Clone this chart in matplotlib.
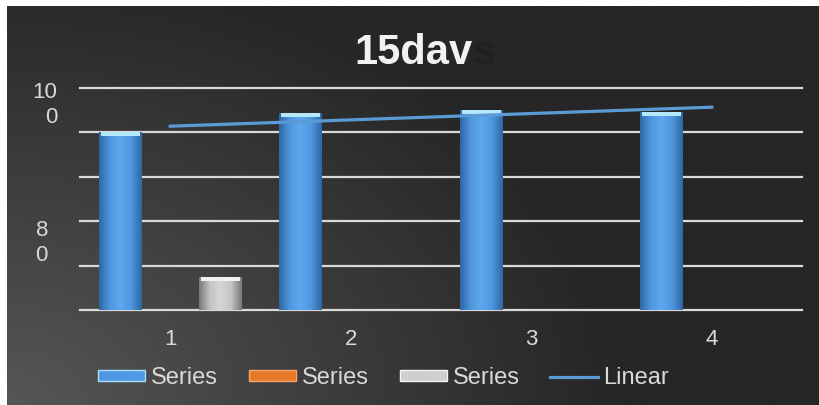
import numpy as np
import matplotlib
matplotlib.use('Agg')
import matplotlib.pyplot as plt
from matplotlib.colors import LinearSegmentedColormap
from matplotlib.patches import Patch
from matplotlib.lines import Line2D

plt.rcParams['font.family'] = ['Liberation Sans', 'DejaVu Sans']

# Data
categories = ['1', '2', '3', '4']
blue_vals = [80, 88.5, 90, 89]
orange_vals = [0, 0, 0, 0]
gray_vals = [15, 0, 0, 0]
series_names = ['Series', 'Series', 'Series']
trend_name = 'Linear'
title = '15dav'

TXT = '#d9d9d9'

fig = plt.figure(figsize=(8.19, 4.05), dpi=100, facecolor='white')

# Dark gradient background panel (lighter toward the bottom-left)
bg = fig.add_axes([7/819, 0, 812/819, 399/405])
bg.axis('off')
gx, gy = np.meshgrid(np.linspace(0, 1, 300), np.linspace(0, 1, 150))
t = np.clip(1 - np.sqrt((gx / 0.75) ** 2 + (gy / 1.1) ** 2), 0, 1)
shade = (0x26 + (0x56 - 0x26) * t) / 255.0
bg.imshow(np.dstack([shade, shade, shade]), origin='lower', extent=[0, 1, 0, 1],
          aspect='auto', interpolation='bilinear')
bg.set_xlim(0, 1)
bg.set_ylim(0, 1)

ax = fig.add_axes([80/819, 95/405, 722/819, 222.5/405])
ax.set_facecolor('none')

x = np.arange(1, len(categories) + 1)
width = 0.238
step = 0.277

blue_cmap = LinearSegmentedColormap.from_list('b', ['#2f68a4', '#4f97e0', '#5ea8ee', '#4f97e0', '#2f68a4'])
gray_cmap = LinearSegmentedColormap.from_list('g', ['#7a7a7a', '#c4c4c4', '#d6d6d6', '#c4c4c4', '#7a7a7a'])
grad = np.linspace(0, 1, 64).reshape(1, -1)


def glossy_bars(xpos, vals, base, cmap, cap):
    bars = ax.bar(xpos, vals, width, color=base, zorder=2)
    for rect in bars:
        h = rect.get_height()
        if h <= 0:
            continue
        x0, y0 = rect.get_xy()
        im = ax.imshow(grad, extent=[x0, x0 + rect.get_width(), y0, y0 + h],
                       aspect='auto', cmap=cmap, zorder=3, interpolation='bilinear')
        im.set_clip_path(rect)
    v = np.asarray(vals, dtype=float)
    ax.bar(xpos[v > 0], 1.8, width * 0.9, bottom=v[v > 0] - 1.8, color=cap, zorder=4)


glossy_bars(x - step, blue_vals, '#4f97e0', blue_cmap, '#b4e8fb')
ax.bar(x, orange_vals, width, color='#ed7d31', zorder=2)
glossy_bars(x + step, gray_vals, '#c4c4c4', gray_cmap, '#f0f0f0')

# Linear trendline for the first series
coef = np.polyfit(x, blue_vals, 1)
ax.plot(x, np.polyval(coef, x), color='#5b9bd5', lw=2.3, zorder=5, clip_on=False)

ax.set_xlim(0.5, 4.5)
ax.set_ylim(0, 100)
ax.set_yticks(range(0, 101, 20))
ax.yaxis.grid(True, color=TXT, lw=1.6)
ax.set_axisbelow(True)
for gl in ax.get_ygridlines():
    gl.set_clip_on(False)
for s in ax.spines.values():
    s.set_visible(False)
ax.tick_params(axis='y', left=False, labelleft=False)
ax.set_xticks(x, categories)
ax.tick_params(axis='x', length=0, pad=14, colors=TXT, labelsize=16)

# Wrapped y labels as they appear in the chart
fig.text(57/819, 1 - 105/405, '10\n0', ha='right', va='center', multialignment='right',
         fontsize=16, color=TXT)
fig.text(48/819, 1 - 243/405, '8\n0', ha='right', va='center', multialignment='right',
         fontsize=16, color=TXT)

# Title with a faint shadowed trailing letter
ttl = fig.text(413/819, 1 - 53/405, title, ha='center', va='center', fontsize=30,
               fontweight='bold', color='#f2f2f2')
bg.annotate('s', xy=(1, 0), xycoords=ttl, va='bottom', ha='left', fontsize=30,
            fontweight='bold', color='#141414', alpha=0.28)

handles = [Patch(facecolor='#4f97e0', edgecolor='#a9e2fa', lw=1),
           Patch(facecolor='#e8792a', edgecolor='#f4a660', lw=1),
           Patch(facecolor='#cfcfcf', edgecolor='#f4f4f4', lw=1),
           Line2D([0], [0], color='#5b9bd5', lw=2.3)]
fig.legend(handles, series_names + [trend_name], loc='center left',
           bbox_to_anchor=(98/819, 1 - 378/405), ncol=4, frameon=False, fontsize=17,
           handlelength=2.0, handleheight=0.35, handletextpad=0.25, columnspacing=1.3,
           labelcolor=TXT, borderpad=0, borderaxespad=0)

fig.savefig('out.png', dpi=100)
